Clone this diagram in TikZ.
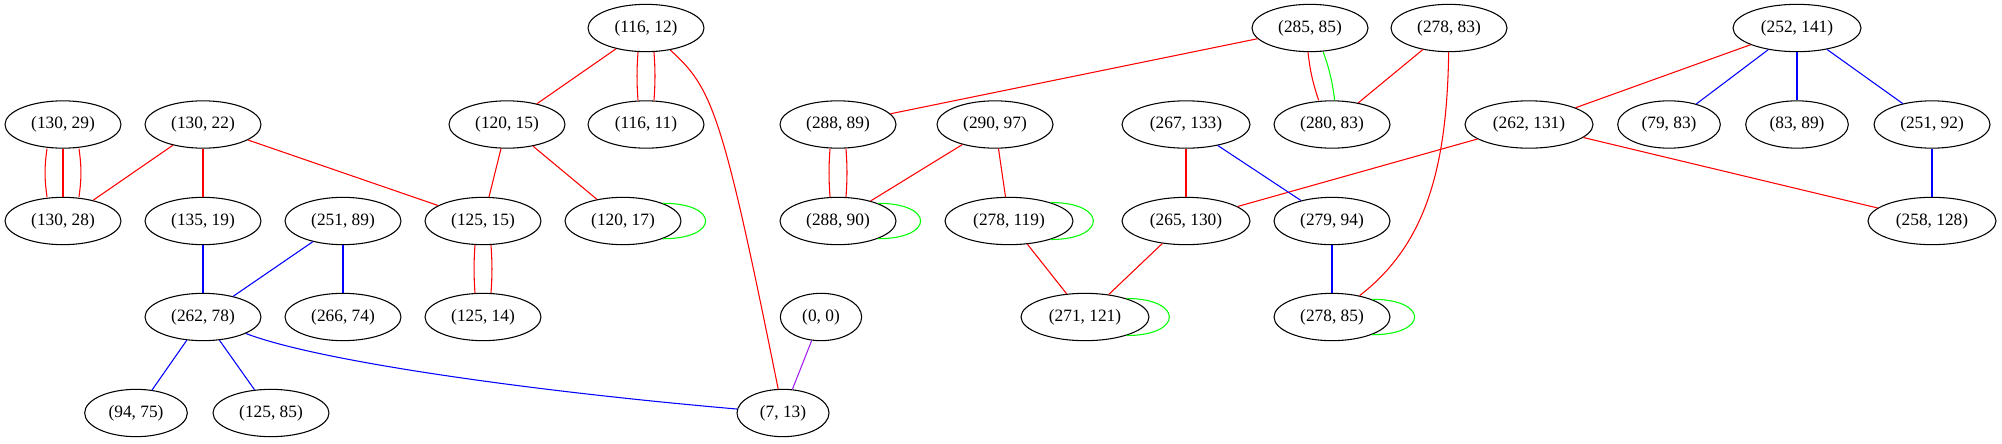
\documentclass[tikz,border=0pt]{standalone}
\usepackage{fontspec}
\setmainfont{Liberation Serif}
\usetikzlibrary{shapes.geometric}
\definecolor{EdgeRed}{HTML}{FF0000}
\definecolor{EdgeBlue}{HTML}{0000FF}
\definecolor{LoopGreen}{HTML}{00FF00}
\definecolor{EdgePurple}{HTML}{A020F0}
\tikzset{
  cell/.style={ellipse, draw=black, line width=0.8pt, inner sep=0pt,
    minimum height=35.5pt, font=\fontsize{13pt}{15pt}\selectfont},
  w2/.style={minimum width=61pt}, w3/.style={minimum width=69pt},
  w4/.style={minimum width=77pt}, w5/.style={minimum width=87pt},
  w6/.style={minimum width=96pt},
  redge/.style={draw=EdgeRed, line width=0.8pt},
  bedge/.style={draw=EdgeBlue, line width=0.8pt},
  gedge/.style={draw=LoopGreen, line width=0.8pt},
  pedge/.style={draw=EdgePurple, line width=0.8pt}
}

\begin{document}
\begin{tikzpicture}[x=0.75pt, y=-0.75pt]
  \useasboundingbox (0,0) rectangle (2002,443);
  % rank 1
  \node[cell,w5] (n116_12) at (646,28) {(116, 12)};
  \node[cell,w5] (n285_85) at (1310,28) {(285, 85)};
  \node[cell,w5] (n278_83) at (1449,28) {(278, 83)};
  \node[cell,w6] (n252_141) at (1797,28) {(252, 141)};
  % rank 2
  \node[cell,w5] (n130_29) at (63,124.5) {(130, 29)};
  \node[cell,w5] (n130_22) at (203,124.5) {(130, 22)};
  \node[cell,w5] (n120_15) at (507,124.5) {(120, 15)};
  \node[cell,w5] (n116_11) at (646,124.5) {(116, 11)};
  \node[cell,w5] (n288_89) at (838,124.5) {(288, 89)};
  \node[cell,w5] (n290_97) at (995,124.5) {(290, 97)};
  \node[cell,w6] (n267_133) at (1186,124.5) {(267, 133)};
  \node[cell,w5] (n280_83) at (1332,124.5) {(280, 83)};
  \node[cell,w6] (n262_131) at (1529,124.5) {(262, 131)};
  \node[cell,w4] (n79_83) at (1669,124.5) {(79, 83)};
  \node[cell,w4] (n83_89) at (1797,124.5) {(83, 89)};
  \node[cell,w5] (n251_92) at (1932,124.5) {(251, 92)};
  % rank 3
  \node[cell,w5] (n130_28) at (63,221) {(130, 28)};
  \node[cell,w5] (n135_19) at (203,221) {(135, 19)};
  \node[cell,w5] (n251_89) at (343,221) {(251, 89)};
  \node[cell,w5] (n125_15) at (483,221) {(125, 15)};
  \node[cell,w5] (n120_17) at (623,221) {(120, 17)};
  \node[cell,w5] (n288_90) at (838,221) {(288, 90)};
  \node[cell,w6] (n278_119) at (1009,221) {(278, 119)};
  \node[cell,w6] (n265_130) at (1186,221) {(265, 130)};
  \node[cell,w5] (n279_94) at (1332,221) {(279, 94)};
  \node[cell,w6] (n258_128) at (1932,221) {(258, 128)};
  % rank 4
  \node[cell,w5] (n262_78) at (203,317) {(262, 78)};
  \node[cell,w5] (n266_74) at (343,317) {(266, 74)};
  \node[cell,w5] (n125_14) at (483,317) {(125, 14)};
  \node[cell,w2] (n0_0) at (821,317) {(0, 0)};
  \node[cell,w6] (n271_121) at (1085,317) {(271, 121)};
  \node[cell,w5] (n278_85) at (1332,317) {(278, 85)};
  % rank 5
  \node[cell,w4] (n94_75) at (136,413) {(94, 75)};
  \node[cell,w5] (n125_85) at (271,413) {(125, 85)};
  \node[cell,w3] (n7_13) at (783,413) {(7, 13)};

  % single edges
  \foreach \a/\b in {n116_12/n120_15, n130_22/n130_28, n130_22/n135_19,
      n130_22/n125_15, n120_15/n125_15, n120_15/n120_17, n285_85/n288_89,
      n278_83/n280_83, n290_97/n288_90, n290_97/n278_119, n278_119/n271_121,
      n267_133/n265_130, n262_131/n265_130, n262_131/n258_128,
      n265_130/n271_121, n252_141/n262_131}
    \draw[redge] (\a) -- (\b);
  \foreach \a/\b in {n135_19/n262_78, n251_89/n262_78, n251_89/n266_74,
      n262_78/n94_75, n262_78/n125_85, n267_133/n279_94, n279_94/n278_85,
      n252_141/n79_83, n252_141/n83_89, n252_141/n251_92, n251_92/n258_128}
    \draw[bedge] (\a) -- (\b);
  \draw[pedge] (n0_0) -- (n7_13);

  % curved long edges
  \draw[redge] (n116_12) .. controls (712,88) and (722,110) .. (n7_13);
  \draw[redge] (n278_83) .. controls (1447,170) and (1425,245) .. (n278_85);
  \draw[bedge] (n262_78) .. controls (320,362) and (540,392) .. (n7_13);

  % multi edges
  \draw[redge] ([xshift=-12pt]n130_29.south) to[bend right=8] ([xshift=-12pt]n130_28.north);
  \draw[redge] (n130_29) -- (n130_28);
  \draw[redge] ([xshift=12pt]n130_29.south) to[bend left=8] ([xshift=12pt]n130_28.north);
  \draw[redge] ([xshift=-6pt]n116_12.south) to[bend right=4] ([xshift=-6pt]n116_11.north);
  \draw[redge] ([xshift=6pt]n116_12.south) to[bend left=4] ([xshift=6pt]n116_11.north);
  \draw[redge] ([xshift=-6pt]n125_15.south) to[bend right=4] ([xshift=-6pt]n125_14.north);
  \draw[redge] ([xshift=6pt]n125_15.south) to[bend left=4] ([xshift=6pt]n125_14.north);
  \draw[redge] ([xshift=-6pt]n288_89.south) to[bend right=4] ([xshift=-6pt]n288_90.north);
  \draw[redge] ([xshift=6pt]n288_89.south) to[bend left=4] ([xshift=6pt]n288_90.north);
  \draw[redge] ([xshift=-1.5pt]n285_85.south) to[bend right=6] ([xshift=-10pt]n280_83.north);
  \draw[gedge] ([xshift=10pt]n285_85.south) to[bend left=6] ([xshift=2pt]n280_83.north);

  % self loops
  \foreach \n in {n120_17, n288_90, n278_119, n271_121, n278_85}
    \draw[gedge] (\n.24) .. controls +(57,0) and +(57,0) .. (\n.-24);
\end{tikzpicture}
\end{document}
